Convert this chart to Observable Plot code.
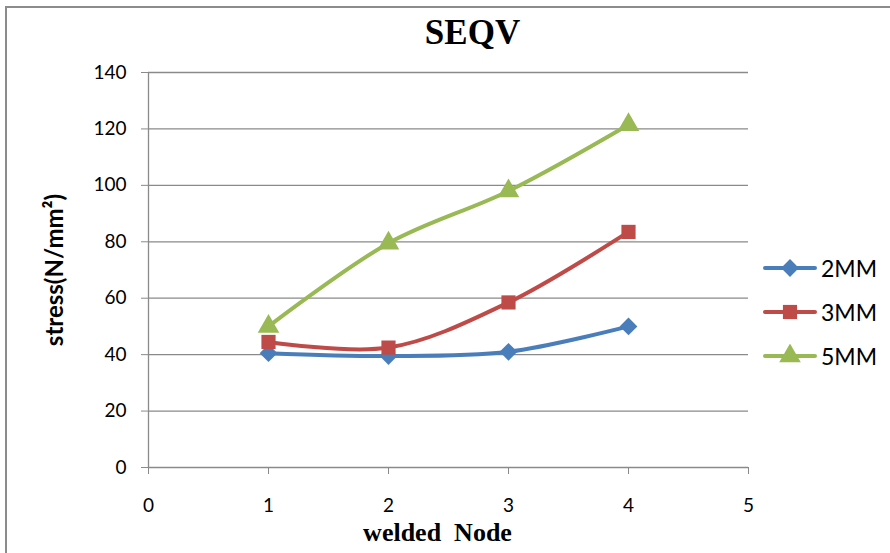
<!DOCTYPE html>
<html>
<head>
<meta charset="utf-8">
<script src="https://cdn.jsdelivr.net/npm/d3@7"></script>
<script src="https://cdn.jsdelivr.net/npm/@observablehq/plot@0.6"></script>
<style>
  html, body { margin: 0; padding: 0; background: #fff; }
  #wrap { position: relative; width: 890px; height: 553px; overflow: hidden; }
  #frame { position: absolute; left: 5px; top: 6px; width: 900px; height: 600px; border: 2px solid #8c8c8c; box-sizing: border-box; }
  #chart { position: absolute; left: 0; top: 0; }
  #legend { position: absolute; left: 762px; top: 246px; font-family: Lato, "Open Sans", sans-serif; font-size: 23px; color: #000; }
  .item { display: flex; align-items: center; height: 44px; }
  .item svg { margin-right: 3px; }
</style>
</head>
<body>
<div id="wrap">
  <div id="frame"></div>
  <div id="chart"></div>
  <div id="legend"></div>
</div>
<script>
// welded node positions and equivalent stress for each weld size
const nodes = [1, 2, 3, 4];
const stress2MM = [40.5, 39.5, 41, 50];
const stress3MM = [44.5, 42.5, 58.5, 83.5];
const stress5MM = [50, 79.5, 98, 121.5];

const seriesNames = ["2MM", "3MM", "5MM"];
const seriesColors = ["#4A7EBB", "#BE4B48", "#98B954"];
const seriesSymbols = ["diamond2", "square", "triangle"];
const xTicks = [0, 1, 2, 3, 4, 5];
const yTicks = [0, 20, 40, 60, 80, 100, 120, 140];

const rows = [];
[stress2MM, stress3MM, stress5MM].forEach((vals, i) => {
  vals.forEach((v, j) => rows.push({ node: nodes[j], stress: v, series: seriesNames[i] }));
});

const serif = "'Liberation Serif', 'Times New Roman', serif";

const plot = Plot.plot({
  width: 890,
  height: 553,
  marginLeft: 148,
  marginRight: 142,
  marginTop: 72,
  marginBottom: 86,
  style: { fontFamily: "Lato, 'Open Sans', sans-serif", fontSize: "19px", color: "#000", background: "transparent" },
  x: { domain: [0, 5], ticks: xTicks, label: null },
  y: { domain: [0, 140], ticks: yTicks, label: null },
  color: { domain: seriesNames, range: seriesColors },
  symbol: { domain: seriesNames, range: seriesSymbols },
  marks: [
    Plot.ruleY(yTicks.filter(d => d > 0), { stroke: "#8a8a8a", strokeWidth: 1.3 }),
    Plot.ruleY([0], { stroke: "#8a8a8a", strokeWidth: 1.3 }),
    Plot.ruleX([0], { stroke: "#8a8a8a", strokeWidth: 1.3 }),
    Plot.axisY({ ticks: yTicks, tickSize: 7, tickPadding: 15, stroke: "#8a8a8a", fontSize: 19, label: null, tickFormat: d3.format("d") }),
    Plot.axisX({ ticks: xTicks, tickSize: 7, tickPadding: 24, stroke: "#8a8a8a", fontSize: 19, label: null, tickFormat: d3.format("d") }),
    Plot.line(rows, { x: "node", y: "stress", z: "series", stroke: "series", strokeWidth: 4, curve: "catmull-rom" }),
    Plot.dot(rows, { x: "node", y: "stress", symbol: "series", fill: "series", r: 8 }),
    Plot.text(["SEQV"], { frameAnchor: "top", dx: 24, dy: -40, fontFamily: serif, fontWeight: "bold", fontSize: 35, lineAnchor: "middle" }),
    Plot.text(["welded  Node"], { frameAnchor: "bottom", dx: -11, dy: 65, fontFamily: serif, fontWeight: "bold", fontSize: 26, lineAnchor: "middle" }),
    Plot.text(["stress(N/mm²)"], { frameAnchor: "left", textAnchor: "middle", dx: -93, rotate: -90, fontWeight: "bold", fontSize: 24, lineAnchor: "middle" })
  ]
});
document.getElementById("chart").appendChild(plot);

// legend built from the same series definitions
const legend = d3.select("#legend");
seriesNames.forEach((name, i) => {
  const item = legend.append("div").attr("class", "item");
  const svg = item.append("svg").attr("width", 56).attr("height", 24);
  svg.append("line").attr("x1", 3).attr("x2", 53).attr("y1", 12).attr("y2", 12)
    .attr("stroke", seriesColors[i]).attr("stroke-width", 4).attr("stroke-linecap", "round");
  const sym = { diamond2: d3.symbolDiamond2, square: d3.symbolSquare, triangle: d3.symbolTriangle }[seriesSymbols[i]];
  svg.append("path").attr("transform", "translate(28,12)")
    .attr("d", d3.symbol(sym, Math.PI * 8 * 8)()).attr("fill", seriesColors[i]);
  item.append("span").text(name);
});
</script>
</body>
</html>
